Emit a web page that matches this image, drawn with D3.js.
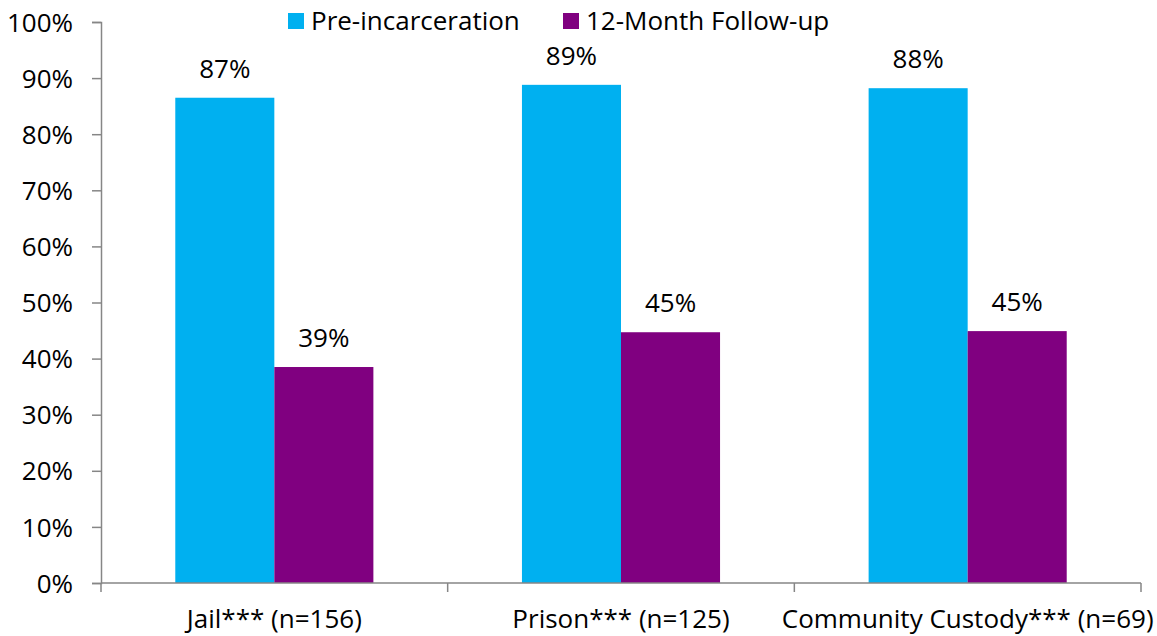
<!DOCTYPE html>
<html><head><meta charset="utf-8">
<script src="https://cdn.jsdelivr.net/npm/d3@7/dist/d3.min.js"></script>
<style>body{margin:0;background:#fff}text{font-family:"Open Sans",sans-serif;fill:#000}</style>
</head><body><svg id="c" width="1157" height="636"></svg>
<script>
const categories = ["Jail*** (n=156)", "Prison*** (n=125)", "Community Custody*** (n=69)"];
const seriesNames = ["Pre-incarceration", "12-Month Follow-up"];
const preValues = [0.865, 0.888, 0.882];
const followValues = [0.385, 0.447, 0.449];
const labelsPre = ["87%", "89%", "88%"];
const labelsFollow = ["39%", "45%", "45%"];
const yTicks = [0,0.1,0.2,0.3,0.4,0.5,0.6,0.7,0.8,0.9,1.0];
const colors = ["#00B0F0", "#800080"];

const svg = d3.select("#c");
const mLeft = 101, mRight = 1141, mTop = 22, mBottom = 583;
const x = d3.scaleBand().domain(categories).range([mLeft, mRight]).paddingInner(0).paddingOuter(0);
const x1 = d3.scaleBand().domain(seriesNames).range([0, x.bandwidth()]).paddingInner(0).paddingOuter(0.75);
const y = d3.scaleLinear().domain([0, 1]).range([mBottom, mTop]);
const axisColor = "#868686";

const series = [preValues, followValues];
const labels = [labelsPre, labelsFollow];
const fs = 26;

series.forEach((vals, si) => {
  svg.append("g").selectAll("rect").data(categories).join("rect")
    .attr("x", d => x(d) + x1(seriesNames[si]))
    .attr("width", x1.bandwidth())
    .attr("y", (d,i) => y(vals[i]))
    .attr("height", (d,i) => y(0) - y(vals[i]))
    .attr("fill", colors[si]);
  svg.append("g").selectAll("text").data(categories).join("text")
    .attr("x", d => x(d) + x1(seriesNames[si]) + x1.bandwidth()/2)
    .attr("y", (d,i) => y(vals[i]) - 20)
    .attr("text-anchor", "middle")
    .attr("font-size", fs)
    .text((d,i) => labels[si][i]);
});

const yAxis = d3.axisLeft(y).tickValues(yTicks).tickFormat(d3.format(".0%")).tickSize(9).tickPadding(19);
const gy = svg.append("g").attr("transform", `translate(${mLeft},0)`).call(yAxis);
gy.select(".domain").attr("stroke", axisColor).attr("stroke-width", 1.5);
gy.selectAll(".tick line").attr("stroke", axisColor).attr("stroke-width", 1.5);
gy.selectAll(".tick text").attr("font-size", fs).attr("font-family", "Open Sans, sans-serif").attr("fill", "#000").attr("dy", "0.35em");

const gx = svg.append("g").attr("transform", `translate(0,${mBottom})`);
gx.append("line").attr("x1", mLeft).attr("x2", mRight).attr("stroke", axisColor).attr("stroke-width", 1.5);
const bounds = [mLeft, ...categories.map(c => x(c) + x.bandwidth())];
gx.selectAll("line.t").data(bounds).join("line").attr("class","t")
  .attr("x1", d => d).attr("x2", d => d).attr("y1", 0).attr("y2", 9)
  .attr("stroke", axisColor).attr("stroke-width", 1.5);
gx.selectAll("text").data(categories).join("text")
  .attr("x", d => x(d) + x.bandwidth()/2)
  .attr("y", 45)
  .attr("text-anchor", "middle")
  .attr("font-size", fs)
  .text(d => d);

const leg = svg.append("g");
const legX = [288, 563];
seriesNames.forEach((n, i) => {
  leg.append("rect").attr("x", legX[i]).attr("y", 13).attr("width", 16).attr("height", 16).attr("fill", colors[i]);
  leg.append("text").attr("x", legX[i] + 23).attr("y", 30).attr("font-size", fs).text(n);
});
</script></body></html>
